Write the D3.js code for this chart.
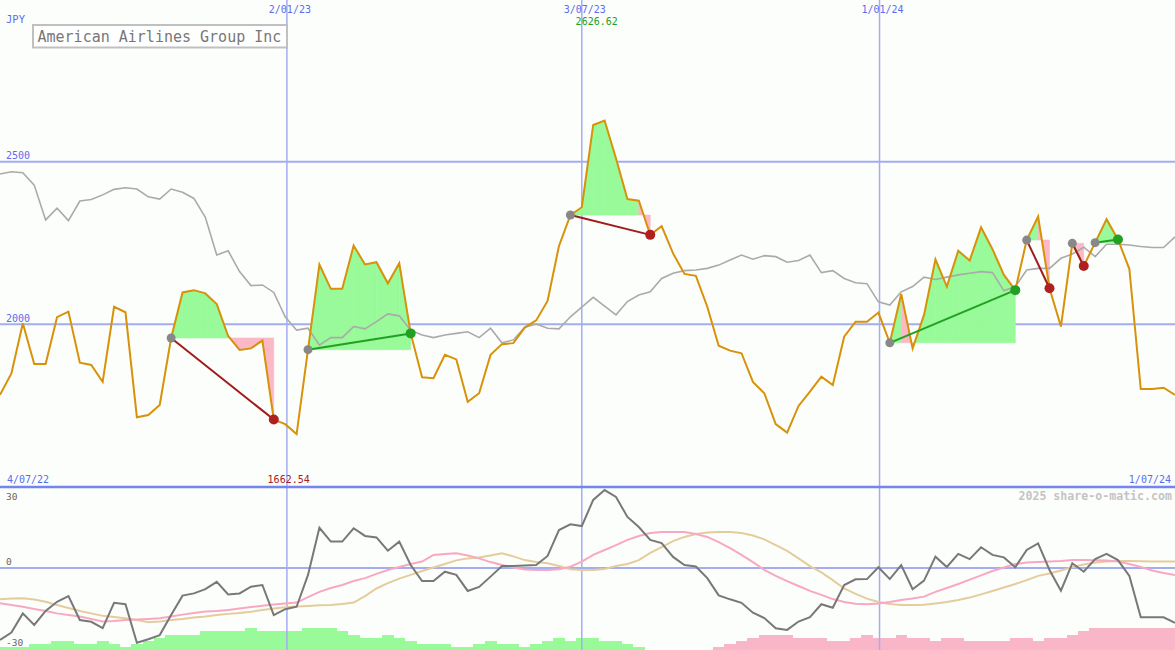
<!DOCTYPE html>
<html><head><meta charset="utf-8">
<script src="https://cdn.jsdelivr.net/npm/d3@7"></script>
<style>html,body{margin:0;padding:0;background:#fcfefc;}svg{display:block;}</style>
</head><body>
<svg id="c" width="1175" height="650"></svg>
<script>
// ---- data ----
const title = "American Airlines Group Inc";
const currency = "JPY";
const startLabel = "4/07/22", endLabel = "1/07/24";
const tickLabels = ["2/01/23", "3/07/23", "1/01/24"];
const tickIndex = [25.15, 51, 77.1];
const priceTicks = [2500, 2000];
const oscTicks = [30, 0, -30];

const price = [1783,1849,2003,1878,1878,2022,2039,1882,1875,1823,2054,2037,1714,1721,1752,1958,2098,2105,2095,2062,
1964,1921,1926,1950,1707,1693,1662.54,1922,2184,2109,2109,2242,2184,2191,2126,2188,1972,1837,1834,1906,
1892,1762,1788,1906,1939,1942,1990,2012,2072,2241,2336,2360,2613,2626.62,2510,2385,2380,2275,2302,2218,
2155,2149,2054,1934,1919,1911,1823,1788,1693,1667,1749,1793,1839,1813,1962,2008,2008,2036,1943,2093,
1926,2029,2200,2116,2226,2196,2298,2231,2152,2105,2259,2331,2111,1993,2249,2179,2251,2323,2261,2170,
1801,1801,1805,1783];

const avg = [2462,2469,2466,2428,2321,2357,2319,2379,2384,2398,2415,2420,2416,2392,2385,2416,2406,2387,2329,2213,
2226,2162,2119,2121,2098,2023,1982,1988,1936,1959,1959,1993,1986,2008,2032,2026,1982,1967,1959,1967,
1972,1977,1959,1988,1943,1952,1991,2001,1988,1986,2023,2053,2083,2056,2029,2070,2090,2100,2141,2157,
2165,2167,2172,2182,2198,2213,2200,2211,2208,2191,2196,2213,2159,2165,2141,2128,2125,2069,2059,2100,
2116,2145,2138,2145,2152,2157,2162,2159,2103,2116,2167,2172,2172,2203,2216,2237,2208,2246,2246,2244,
2239,2236,2236,2269];

// trades: [entry index, exit index]
const trades = [[15,24],[27,36],[50,57],[78,89],[90,92],[94,95],[96,98]];

const osc = [-29.2,-26.2,-18.4,-23.1,-17.4,-13.7,-11.4,-21.1,-21.8,-24.4,-14.1,-14.7,-30.3,-28.9,-27.2,-19.1,-11.2,-10.3,-8.6,-5.6,
-10.7,-10.3,-7.6,-6.9,-19.1,-16.7,-15.7,-2.8,16.3,10.7,10.7,16.1,13.0,12.4,7.0,10.7,1.2,-5.3,-5.3,-1.5,
-2.8,-9.3,-7.7,-3.5,0.8,0.8,1.0,1.2,4.9,15.4,17.7,17.0,27.6,31.6,28.8,20.7,16.6,11.4,10.1,4.5,
1.2,0.6,-4.1,-11.1,-12.7,-14.1,-18.1,-20.3,-24.4,-25.1,-21.7,-19.9,-14.7,-16.1,-6.9,-4.6,-4.5,0.3,-4.5,1.2,
-8.6,-5.1,4.6,0.4,5.7,3.6,8.4,5.3,4.3,0.3,7.3,10.0,-0.8,-9.2,1.9,-1.5,3.6,5.7,3.2,-3.2,
-20.0,-20.0,-20.0,-22.2];

const fast = [-14.3,-15.0,-15.7,-16.6,-17.4,-18.4,-19.1,-19.7,-20.7,-21.7,-21.5,-21.1,-20.9,-20.7,-20.4,-19.7,-18.9,-18.2,-17.6,-17.4,
-17.0,-16.4,-15.8,-15.3,-14.8,-14.4,-14.0,-11.8,-9.7,-8.1,-6.9,-5.3,-4.1,-2.4,-0.8,0.4,1.6,2.6,5.3,5.7,
6.0,5.1,3.9,2.4,1.2,0.2,-0.6,-0.8,-0.8,-0.5,0.5,2.6,5.3,7.3,9.3,11.4,13.0,14.2,14.6,14.6,
14.6,13.8,12.6,10.5,8.1,5.3,2.4,-0.8,-3.2,-5.3,-7.3,-9.3,-10.9,-12.6,-13.8,-14.5,-14.7,-14.4,-13.8,-13.0,
-12.4,-11.6,-9.7,-8.1,-6.5,-4.7,-3.0,-1.2,0.2,1.6,2.2,2.4,2.6,2.8,3.2,3.2,3.1,3.0,2.6,1.6,
0.4,-1.0,-2.0,-2.8];

const slow = [-12.7,-12.4,-12.3,-12.8,-13.7,-15.0,-16.2,-17.4,-18.4,-19.4,-19.9,-20.4,-21.1,-22.0,-21.7,-21.1,-20.7,-20.1,-19.7,-19.1,
-18.6,-18.2,-17.7,-17.0,-16.4,-15.9,-15.6,-15.4,-15.1,-15.0,-14.6,-14.0,-11.4,-8.3,-6.1,-4.3,-2.8,-1.2,0.2,1.6,
3.1,3.9,4.3,5.1,6.0,4.7,3.2,2.4,1.9,0.8,-0.5,-0.8,-0.8,-0.4,0.8,1.6,3.2,6.1,8.5,10.9,
12.6,13.8,14.4,14.6,14.6,14.2,13.2,11.6,9.3,6.9,3.9,0.8,-1.8,-4.9,-8.3,-10.5,-12.4,-13.8,-14.6,-15.0,
-15.0,-14.9,-14.4,-13.8,-13.0,-12.0,-10.7,-9.3,-7.9,-6.5,-4.9,-3.2,-2.2,-1.0,0.4,1.4,2.2,2.6,2.8,2.8,
2.7,2.6,2.6,2.6];

const hist = [1.2,1.2,1.2,2.4,2.4,3.6,3.6,2.4,2.4,3.6,2.4,1.2,2.4,3.6,4.9,6.1,6.1,6.1,7.7,7.7,
7.7,7.7,8.9,7.7,7.7,7.7,7.7,8.9,8.9,8.9,7.7,6.1,4.9,4.9,6.1,4.9,3.6,2.4,2.4,2.4,
1.2,1.2,2.4,3.6,2.4,2.4,1.2,2.4,3.6,4.9,3.6,4.9,4.9,3.6,3.6,2.4,1.2,0,0,0,
0,0,0,-1.2,-2.4,-3.6,-4.9,-6.1,-6.1,-6.1,-4.9,-4.9,-4.9,-3.6,-3.6,-4.9,-6.1,-4.9,-4.9,-6.1,
-4.9,-4.9,-3.6,-4.9,-4.9,-3.6,-3.6,-3.6,-3.6,-4.9,-4.9,-3.6,-4.9,-4.9,-6.1,-7.7,-8.9,-8.9,-8.9,-8.9,
-8.9,-8.9,-8.9,-8.9];

// ---- drawing ----
const W = 1175, H = 650;
const svg = d3.select("#c");
const mono = "'DejaVu Sans Mono', 'Liberation Mono', monospace";
const gridC = "#a3adf0", blueTxt = "#5b6cf0";

const x = d3.scaleLinear().domain([0, price.length - 1]).range([0, W]);
const y = d3.scaleLinear().domain([2000, 2500]).range([324.3, 161.7]);
const yl = d3.scaleLinear().domain([-30, 30]).range([642, 494]);
const hb = d3.scaleLinear().domain([0, 30]).range([0, 74]);
const step = x(1) - x(0);

svg.append("rect").attr("width", W).attr("height", H).attr("fill", "#fcfefc");

// histogram bars (lower panel)
svg.append("g").selectAll("rect").data(hist.map((v, i) => ({v, i})).filter(d => d.v !== 0))
  .join("rect")
  .attr("x", d => x(d.i) - step / 2).attr("width", step + 0.3)
  .attr("y", d => H - hb(Math.abs(d.v))).attr("height", d => hb(Math.abs(d.v)))
  .attr("fill", d => d.v > 0 ? "#98fa98" : "#f9b6c8")
  .attr("shape-rendering", "crispEdges");

// horizontal grid lines
svg.append("g").selectAll("line").data(priceTicks).join("line")
  .attr("x1", 0).attr("x2", W).attr("y1", d => y(d)).attr("y2", d => y(d))
  .attr("stroke", gridC).attr("stroke-width", 2);
svg.append("line").attr("x1", 0).attr("x2", W).attr("y1", yl(0)).attr("y2", yl(0))
  .attr("stroke", gridC).attr("stroke-width", 2);

// vertical date lines
svg.append("g").selectAll("line").data(tickIndex).join("line")
  .attr("x1", d => x(d)).attr("x2", d => x(d)).attr("y1", 0).attr("y2", H)
  .attr("stroke", gridC).attr("stroke-width", 1.5);

// separator
svg.append("line").attr("x1", 0).attr("x2", W).attr("y1", 487).attr("y2", 487)
  .attr("stroke", "#7585ee").attr("stroke-width", 2.5);

// trade fills
const fills = [];
trades.forEach(([a, b]) => {
  const L = price[a];
  for (let i = a; i < b; i++) {
    fills.push({pts: [[x(i), y(price[i])], [x(i + 1), y(price[i + 1])], [x(i + 1), y(L)], [x(i), y(L)]],
                up: price[i + 1] >= L});
  }
});
svg.append("g").selectAll("path").data(fills).join("path")
  .attr("d", d => "M" + d.pts.map(p => p.join(",")).join("L") + "Z")
  .attr("fill", d => d.up ? "#98fa98" : "#fbb8c6")
  .attr("stroke", d => d.up ? "#98fa98" : "#fbb8c6").attr("stroke-width", 0.6);

// average line
const lineMain = d3.line().x((d, i) => x(i)).y(d => y(d));
svg.append("path").attr("d", lineMain(avg)).attr("fill", "none")
  .attr("stroke", "#aaaaaa").attr("stroke-width", 1.6);
// price line
svg.append("path").attr("d", lineMain(price)).attr("fill", "none")
  .attr("stroke", "#d8920a").attr("stroke-width", 2).attr("stroke-linejoin", "miter");

// trade connectors and markers
trades.forEach(([a, b]) => {
  const win = price[b] > price[a];
  svg.append("line").attr("x1", x(a)).attr("y1", y(price[a])).attr("x2", x(b)).attr("y2", y(price[b]))
    .attr("stroke", win ? "#22a022" : "#a01c1c").attr("stroke-width", 2);
  svg.append("circle").attr("cx", x(a)).attr("cy", y(price[a])).attr("r", 4.5).attr("fill", "#888888");
  svg.append("circle").attr("cx", x(b)).attr("cy", y(price[b])).attr("r", 5)
    .attr("fill", win ? "#22a022" : "#b02020");
});

// lower panel lines
const lineLow = d3.line().x((d, i) => x(i)).y(d => yl(d));
svg.append("path").attr("d", lineLow(slow)).attr("fill", "none").attr("stroke", "#e4cc9c").attr("stroke-width", 2);
svg.append("path").attr("d", lineLow(fast)).attr("fill", "none").attr("stroke", "#f8a8c2").attr("stroke-width", 2);
svg.append("path").attr("d", lineLow(osc)).attr("fill", "none").attr("stroke", "#787878").attr("stroke-width", 2);

// texts
const txt = (s, tx, ty, col, size, anchor, weight) => svg.append("text").text(s)
  .attr("x", tx).attr("y", ty).attr("fill", col).attr("font-family", mono)
  .attr("font-size", size).attr("text-anchor", anchor || "start").attr("font-weight", weight || "normal");

txt(currency, 6, 23, blueTxt, 10.5);
tickLabels.forEach((t, i) => txt(t, x(tickIndex[i]) + 3, 13, blueTxt, 10, "middle"));
priceTicks.forEach(v => txt(String(v), 6, y(v) - 2.5, blueTxt, 10));
txt(startLabel, 7, 483, blueTxt, 10);
txt(endLabel, 1171, 483, blueTxt, 10, "end");

// max / min labels
const iMax = d3.maxIndex(price), iMin = d3.minIndex(price);
txt(price[iMax].toFixed(2), x(iMax) - 29, 25, "#22a022", 10);
txt(price[iMin].toFixed(2), x(iMin) - 29, 483, "#a82020", 10);

// title box
svg.append("rect").attr("x", 33).attr("y", 25).attr("width", 254).attr("height", 22.5)
  .attr("fill", "#ffffff").attr("stroke", "#c0c0c0").attr("stroke-width", 2);
txt(title, 37.5, 41.5, "#777777", 15);

// watermark
txt("2025 share-o-matic.com", 1172, 500, "#c4c4c4", 11.6, "end", "bold");

// lower labels
txt(String(oscTicks[0]), 6, yl(oscTicks[0]) + 6, "#666666", 9.5);
txt(String(oscTicks[1]), 6, yl(oscTicks[1]) - 3, "#666666", 9.5);
txt(String(oscTicks[2]), 6, yl(oscTicks[2]) + 4, "#666666", 9.5);
</script>
</body></html>
